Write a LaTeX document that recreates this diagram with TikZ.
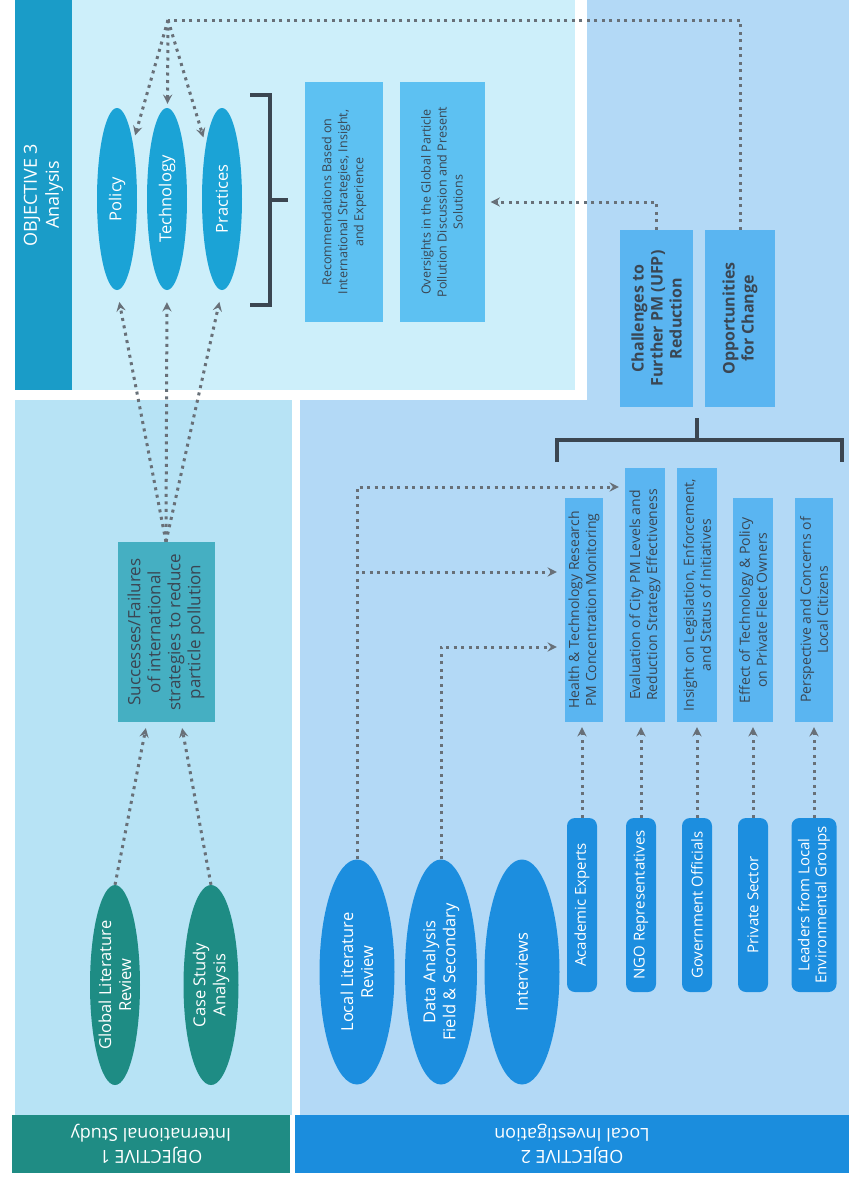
\documentclass[tikz,border=0pt]{standalone}
\usepackage{xcolor}
\usepackage{fontspec}
\setmainfont{Open Sans}
\usepackage{tikz}
\usetikzlibrary{shapes.geometric, arrows, positioning, backgrounds}

\definecolor{bandthreec}{HTML}{1A9CC8}
\definecolor{panelthree}{HTML}{CDEFFA}
\definecolor{ovalthree}{HTML}{1BA3D6}
\definecolor{boxthree}{HTML}{5DC1F2}
\definecolor{panelone}{HTML}{B7E3F5}
\definecolor{bandonec}{HTML}{1F8C84}
\definecolor{ovalone}{HTML}{1E8C84}
\definecolor{boxone}{HTML}{45AFC2}
\definecolor{paneltwo}{HTML}{B3D9F6}
\definecolor{bandtwoc}{HTML}{1B8DDD}
\definecolor{ovaltwo}{HTML}{1C8EDF}
\definecolor{boxtwo}{HTML}{5AB5F1}
\definecolor{darktext}{HTML}{3A4653}
\definecolor{dotgray}{HTML}{687078}
\definecolor{bracketgray}{HTML}{3B4651}

\tikzstyle{band} = [rectangle, inner sep=0pt, text=white, align=center, font=\fontsize{18}{22}\selectfont]
\tikzstyle{oval} = [ellipse, rotate=90, inner sep=0pt, text=white, align=center, font=\fontsize{16.5}{20}\selectfont]
\tikzstyle{finding} = [rectangle, rotate=90, inner sep=0pt, text=darktext, align=center, font=\fontsize{14}{17}\selectfont]
\tikzstyle{stakeholder} = [rectangle, rounded corners=8pt, rotate=90, inner sep=0pt, fill=ovaltwo, text=white, align=center, minimum width=174pt, minimum height=30pt, font=\fontsize{15}{17}\selectfont]
\tikzstyle{dotline} = [draw=dotgray, line width=3pt, dash pattern=on 3pt off 4.5pt]
\tikzstyle{dotarrow} = [dotline, ->, >=stealth]
\tikzstyle{bracket} = [draw=bracketgray, line width=3.5pt]

\begin{document}
\begin{tikzpicture}[x=1pt, y=-1pt]
\useasboundingbox (0,0) rectangle (849,1184);

% panels
\fill [panelthree] (72,0) rectangle (575,390);
\fill [panelone] (15,400) rectangle (292,1115);
\fill [paneltwo] (300,400) -- (587,400) -- (587,0) -- (849,0) -- (849,1115) -- (300,1115) -- cycle;

% banners
\node (bandthree) [band, rotate=90, fill=bandthreec, minimum width=390pt, minimum height=57pt] at (43.5,195) {OBJECTIVE 3\\Analysis};
\node (bandone) [band, rotate=180, fill=bandonec, minimum width=278pt, minimum height=58pt] at (151,1144) {OBJECTIVE 1\\International Study};
\node (bandtwo) [band, rotate=180, fill=bandtwoc, minimum width=554pt, minimum height=58pt] at (572,1144) {OBJECTIVE 2\\Local Investigation};

% objective 3
\node (policy) [oval, fill=ovalthree, minimum width=182pt, minimum height=40pt] at (117,199) {Policy};
\node (tech) [oval, fill=ovalthree, minimum width=182pt, minimum height=40pt] at (167,199) {Technology};
\node (prac) [oval, fill=ovalthree, minimum width=182pt, minimum height=40pt] at (222,199) {Practices};
\node (recom) [finding, fill=boxthree, minimum width=240pt, minimum height=78pt, font=\fontsize{12.5}{16}\selectfont] at (344,202) {Recommendations Based on\\International Strategies, Insight,\\and Experience};
\node (over) [finding, fill=boxthree, minimum width=240pt, minimum height=85pt, font=\fontsize{12.5}{16}\selectfont] at (442,202) {Oversights in the Global Particle\\Pollution Discussion and Present\\Solutions};

% objective 1
\node (succ) [finding, fill=boxone, minimum width=180pt, minimum height=97pt, font=\fontsize{17}{20}\selectfont] at (166,632) {Successes/Failures\\of international\\strategies to reduce\\particle pollution};
\node (glr) [oval, fill=ovalone, minimum width=200pt, minimum height=50pt] at (115,985) {Global Literature\\Review};
\node (csa) [oval, fill=ovalone, minimum width=200pt, minimum height=55pt] at (211,985) {Case Study\\Analysis};

% objective 2
\node (chal) [finding, fill=boxtwo, minimum width=177pt, minimum height=73pt, font=\bfseries\fontsize{16}{19}\selectfont] at (656.5,318.5) {Challenges to\\Further PM (UFP)\\Reduction};
\node (opp) [finding, fill=boxtwo, minimum width=177pt, minimum height=70pt, font=\bfseries\fontsize{16}{19}\selectfont] at (740,318.5) {Opportunities\\for Change};

\node (health) [finding, fill=boxtwo, minimum width=224pt, minimum height=38pt] at (584,610) {Health \& Technology Research\\PM Concentration Monitoring};
\node (eval) [finding, fill=boxtwo, minimum width=254pt, minimum height=40pt] at (645,595) {Evaluation of City PM Levels and\\Reduction Strategy Effectiveness};
\node (insight) [finding, fill=boxtwo, minimum width=254pt, minimum height=40pt] at (697,595) {Insight on Legislation, Enforcement,\\and Status of Initiatives};
\node (effect) [finding, fill=boxtwo, minimum width=224pt, minimum height=40pt] at (753,610) {Effect of Technology \& Policy\\on Private Fleet Owners};
\node (persp) [finding, fill=boxtwo, minimum width=224pt, minimum height=38pt] at (814,610) {Perspective and Concerns of\\Local Citizens};

\node (acad) [stakeholder] at (582,905) {Academic Experts};
\node (ngo) [stakeholder] at (641,905) {NGO Representatives};
\node (gov) [stakeholder] at (697,905) {Government Officials};
\node (priv) [stakeholder] at (753,905) {Private Sector};
\node (lead) [stakeholder, minimum height=45pt] at (814,905) {Leaders from Local\\Environmental Groups};

\node (llr) [oval, fill=ovaltwo, minimum width=225pt, minimum height=75pt] at (357,972) {Local Literature\\Review};
\node (data) [oval, fill=ovaltwo, minimum width=225pt, minimum height=72pt] at (441,972) {Data Analysis\\Field \& Secondary};
\node (intv) [oval, fill=ovaltwo, minimum width=225pt, minimum height=75pt] at (522,972) {Interviews};

% brackets
\draw [bracket] (250,95) -- (270,95) -- (270,305) -- (250,305);
\draw [bracket] (270,200) -- (288,200);
\draw [bracket] (557,462) -- (557,440) -- (842,440) -- (842,462);
\draw [bracket] (697,440) -- (697,418);

% dotted links
\coordinate (hub) at (168,20);
\draw [dotline] (opp) |- (hub);
\draw [dotarrow, shorten >=8pt] (hub) -- (policy);
\draw [dotarrow, shorten >=4pt] (hub) -- (tech);
\draw [dotarrow, shorten >=8pt] (hub) -- (prac);
\draw [dotarrow, shorten >=6pt] (chal) |- (over);

\draw [dotarrow, shorten >=12pt] (succ.east) -- (policy.west);
\draw [dotarrow, shorten >=12pt] (succ.east) -- (tech.west);
\draw [dotarrow, shorten >=12pt] (succ.east) -- (prac.west);
\draw [dotarrow, shorten >=6pt] (glr.east) -- ([xshift=-19pt]succ.west);
\draw [dotarrow, shorten >=6pt] (csa.east) -- ([xshift=15pt]succ.west);

\draw [dotarrow, shorten >=6pt] (llr.east) |- ([yshift=108pt]eval.north);
\draw [dotarrow, shorten >=8pt] (llr.east) |- ([yshift=38pt]health.north);
\draw [dotarrow, shorten >=8pt] (data.east) |- ([yshift=-37pt]health.north);

\draw [dotarrow, shorten >=5pt] (acad.east) -- (acad.east |- health.west);
\draw [dotarrow, shorten >=5pt] (ngo.east) -- (ngo.east |- eval.west);
\draw [dotarrow, shorten >=5pt] (gov.east) -- (gov.east |- insight.west);
\draw [dotarrow, shorten >=5pt] (priv.east) -- (priv.east |- effect.west);
\draw [dotarrow, shorten >=5pt] (lead.east) -- (lead.east |- persp.west);

\end{tikzpicture}
\end{document}
